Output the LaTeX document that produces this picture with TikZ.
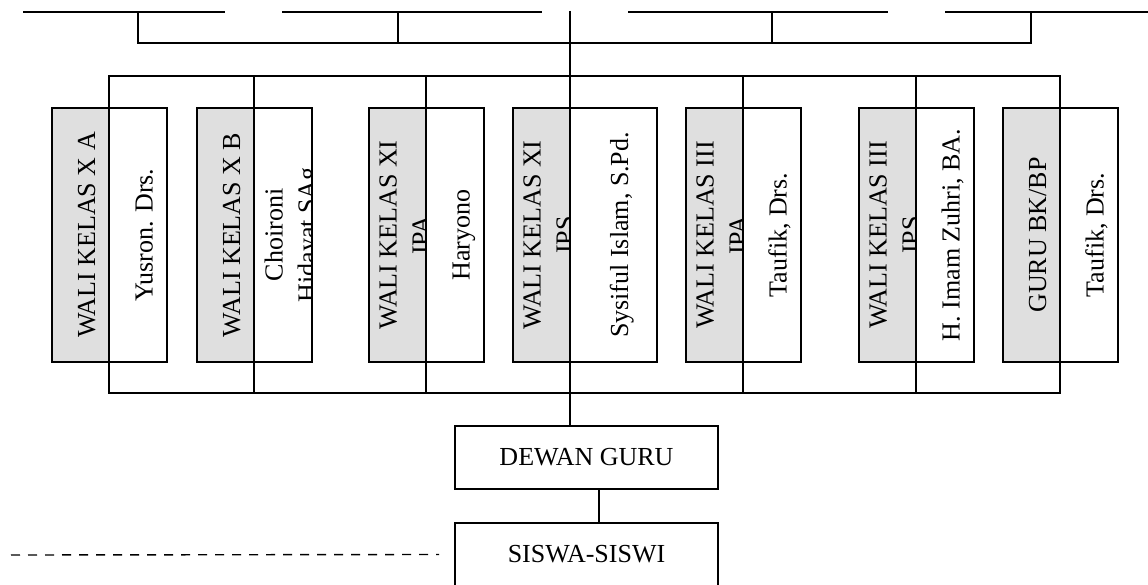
\documentclass[tikz,border=0pt]{standalone}
\usepackage{fontspec}
\setmainfont{Liberation Serif}
\usetikzlibrary{positioning}
\definecolor{abu}{gray}{0.875}

\begin{document}
\begin{tikzpicture}[x=1pt,y=-1pt]
	\tikzstyle{garis}=[line width=1.6pt]
	\tikzstyle{kotak}=[draw, line width=2pt, inner sep=0pt, outer sep=0pt, minimum height=254pt, anchor=north west]
	\tikzstyle{jabatan}=[kotak, fill=abu, minimum width=57pt]
	\tikzstyle{nama}=[kotak, fill=white, minimum width=58pt]
	\tikzstyle{tulis}=[rotate=90, align=center, inner sep=0pt, outer sep=0pt, minimum width=0pt, minimum height=0pt, font=\fontsize{26}{33}\selectfont]
	\tikzstyle{kotakbawah}=[draw, line width=2.2pt, inner sep=0pt, outer sep=0pt, minimum width=263pt, minimum height=63pt, font=\fontsize{26}{33}\selectfont]
	\tikzset{satu/.style={path picture={\node[tulis, anchor=base] at ([xshift=14.5pt]path picture bounding box.center) {#1};}}}
	\tikzset{dua/.style={path picture={\node[tulis, anchor=north] at ([xshift=10.5pt]path picture bounding box.west) {#1};}}}
	\useasboundingbox (0,0) rectangle (1148,585);

	\coordinate (a1) at (23,12);
	\coordinate (a2) at (225,12);
	\coordinate (b1) at (282,12);
	\coordinate (b2) at (542,12);
	\coordinate (c1) at (628,12);
	\coordinate (c2) at (888,12);
	\coordinate (d1) at (945,12);
	\coordinate (d2) at (1148,12);
	\coordinate (t1) at (138,12);
	\coordinate (t2) at (398,12);
	\coordinate (t3) at (772,12);
	\coordinate (t4) at (1031,12);
	\coordinate (kurung) at (0,43);
	\coordinate (pusat) at (570,11);
	\coordinate (busatas) at (0,76);
	\coordinate (busbawah) at (0,393);
	\coordinate (putus) at (11,555);

	\draw[garis] (a1) -- (a2);
	\draw[garis] (b1) -- (b2);
	\draw[garis] (c1) -- (c2);
	\draw[garis] (d1) -- (d2);
	\draw[garis] (t1) |- (t4 |- kurung) -- (t4);
	\draw[garis] (t2) -- (t2 |- kurung);
	\draw[garis] (t3) -- (t3 |- kurung);

	\node[jabatan, satu={WALI KELAS X A}] (j1) at (52,108) {};
	\node[nama, satu={Yusron. Drs.}] (n1) at (109,108) {};
	\node[jabatan, satu={WALI KELAS X B}] (j2) at (197,108) {};
	\node[nama, dua={Choironi\\Hidayat SAg}] (n2) at (254,108) {};
	\node[jabatan, dua={WALI KELAS XI\\IPA}] (j3) at (369,108) {};
	\node[nama, satu={Haryono}] (n3) at (426,108) {};
	\node[jabatan, dua={WALI KELAS XI\\IPS}] (j4) at (513,108) {};
	\node[nama, minimum width=87pt, satu={Sysiful Islam, S.Pd.}] (n4) at (570,108) {};
	\node[jabatan, dua={WALI KELAS III\\IPA}] (j5) at (686,108) {};
	\node[nama, satu={Taufik, Drs.}] (n5) at (743,108) {};
	\node[jabatan, dua={WALI KELAS III\\IPS}] (j6) at (859,108) {};
	\node[nama, satu={H. Imam Zuhri, BA.}] (n6) at (916,108) {};
	\node[jabatan, satu={GURU BK/BP}] (j7) at (1003,108) {};
	\node[nama, satu={Taufik, Drs.}] (n7) at (1060,108) {};

	\node[kotakbawah] (dewan) at (586.5,457.5) {DEWAN GURU};
	\node[kotakbawah, below=34pt of dewan] (siswa) {SISWA-SISWI};

	\draw[garis] (n1.north west) |- (n7.north west |- busatas) -- (n7.north west);
	\draw[garis] (n2.north west) -- (n2.north west |- busatas);
	\draw[garis] (n3.north west) -- (n3.north west |- busatas);
	\draw[garis] (n5.north west) -- (n5.north west |- busatas);
	\draw[garis] (n6.north west) -- (n6.north west |- busatas);
	\draw[garis] (n1.south west) |- (n7.south west |- busbawah) -- (n7.south west);
	\draw[garis] (n2.south west) -- (n2.south west |- busbawah);
	\draw[garis] (n3.south west) -- (n3.south west |- busbawah);
	\draw[garis] (n5.south west) -- (n5.south west |- busbawah);
	\draw[garis] (n6.south west) -- (n6.south west |- busbawah);
	\draw[garis] (pusat) -- (pusat |- dewan.north);
	\draw[garis] ([xshift=12.5pt]dewan.south) -- ([xshift=12.5pt]siswa.north);
	\draw[line width=1.4pt, dash pattern=on 9pt off 8pt] (putus) -- ([xshift=-16pt]siswa.west);
\end{tikzpicture}
\end{document}
